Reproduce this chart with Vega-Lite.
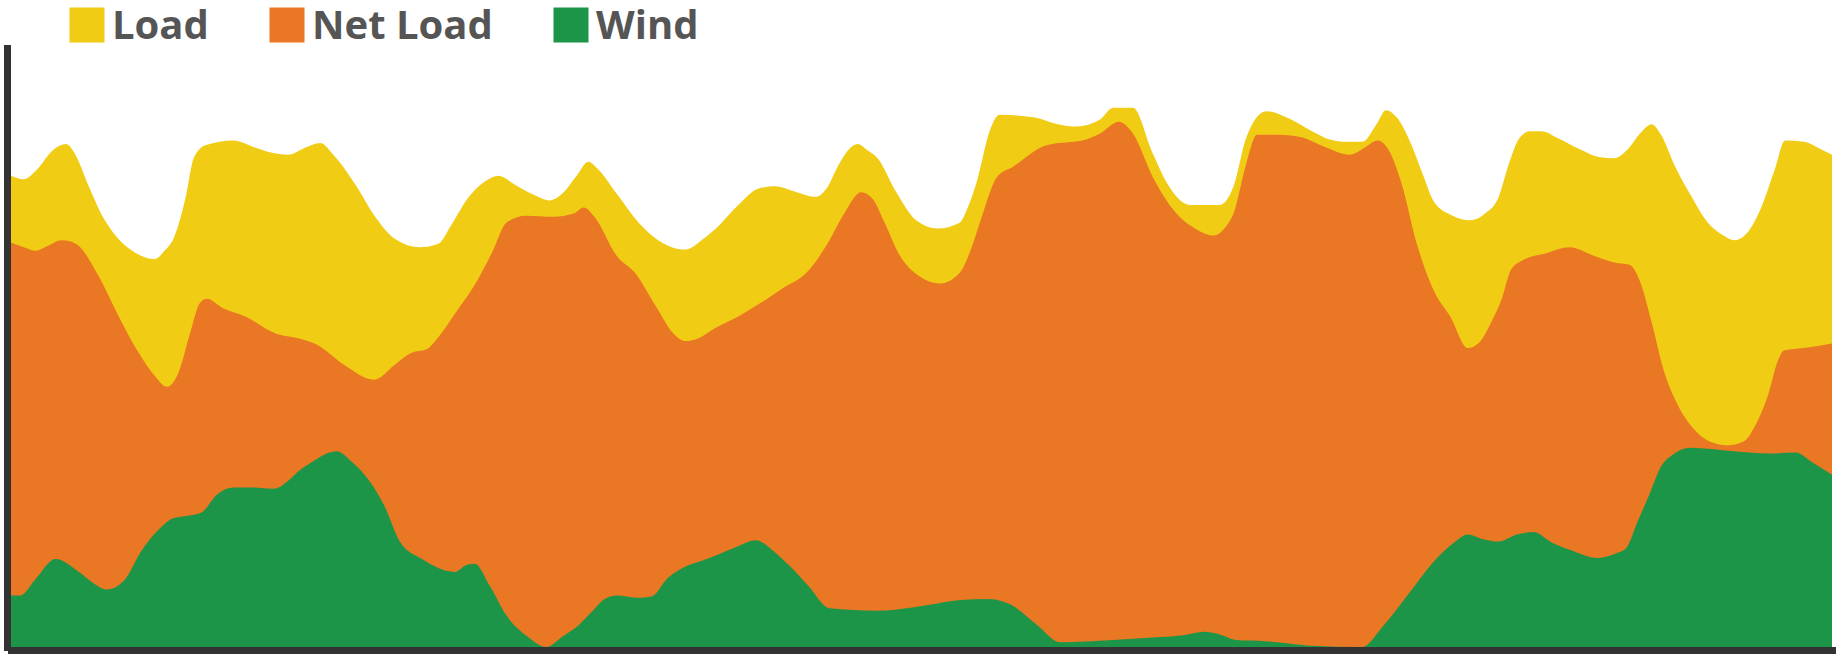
{
  "$schema": "https://vega.github.io/schema/vega-lite/v6.json",
  "width": 1821,
  "height": 599,
  "autosize": {"type": "none"},
  "padding": {"left": 11, "top": 48, "right": 5, "bottom": 13},
  "background": "#ffffff",
  "config": {"view": {"stroke": null}},
  "data": {
    "values": [
      {"s":"Load","t":9,"v":402},{"s":"Load","t":20,"v":399},{"s":"Load","t":30,"v":406},{"s":"Load","t":45,"v":424},{"s":"Load","t":56,"v":429},{"s":"Load","t":64,"v":420},{"s":"Load","t":75,"v":394},{"s":"Load","t":88,"v":366},{"s":"Load","t":100,"v":349},{"s":"Load","t":111,"v":339},{"s":"Load","t":122,"v":333},{"s":"Load","t":132,"v":331},{"s":"Load","t":140,"v":338},{"s":"Load","t":148,"v":349},{"s":"Load","t":158,"v":383},{"s":"Load","t":165,"v":417},{"s":"Load","t":175,"v":428},{"s":"Load","t":199,"v":432},{"s":"Load","t":215,"v":427},{"s":"Load","t":230,"v":422},{"s":"Load","t":246,"v":420},{"s":"Load","t":260,"v":426},{"s":"Load","t":273,"v":430},{"s":"Load","t":285,"v":419},{"s":"Load","t":304,"v":393},{"s":"Load","t":320,"v":367},{"s":"Load","t":337,"v":348},{"s":"Load","t":358,"v":341},{"s":"Load","t":374,"v":344},{"s":"Load","t":385,"v":360},{"s":"Load","t":400,"v":384},{"s":"Load","t":415,"v":398},{"s":"Load","t":425,"v":402},{"s":"Load","t":440,"v":394},{"s":"Load","t":455,"v":386},{"s":"Load","t":469,"v":381},{"s":"Load","t":480,"v":387},{"s":"Load","t":492,"v":402},{"s":"Load","t":502,"v":414},{"s":"Load","t":510,"v":408},{"s":"Load","t":526,"v":387},{"s":"Load","t":545,"v":362},{"s":"Load","t":559,"v":349},{"s":"Load","t":585,"v":339},{"s":"Load","t":600,"v":348},{"s":"Load","t":613,"v":359},{"s":"Load","t":630,"v":377},{"s":"Load","t":647,"v":391},{"s":"Load","t":661,"v":393},{"s":"Load","t":680,"v":388},{"s":"Load","t":696,"v":384},{"s":"Load","t":706,"v":392},{"s":"Load","t":715,"v":410},{"s":"Load","t":724,"v":424},{"s":"Load","t":732,"v":429},{"s":"Load","t":740,"v":424},{"s":"Load","t":749,"v":417},{"s":"Load","t":765,"v":388},{"s":"Load","t":782,"v":364},{"s":"Load","t":800,"v":357},{"s":"Load","t":819,"v":362},{"s":"Load","t":826,"v":375},{"s":"Load","t":834,"v":398},{"s":"Load","t":845,"v":441},{"s":"Load","t":853,"v":454},{"s":"Load","t":882,"v":452},{"s":"Load","t":903,"v":446},{"s":"Load","t":919,"v":444},{"s":"Load","t":939,"v":450},{"s":"Load","t":950,"v":460},{"s":"Load","t":967,"v":460},{"s":"Load","t":984,"v":421},{"s":"Load","t":996,"v":396},{"s":"Load","t":1016,"v":377},{"s":"Load","t":1041,"v":377},{"s":"Load","t":1053,"v":393},{"s":"Load","t":1064,"v":435},{"s":"Load","t":1081,"v":457},{"s":"Load","t":1100,"v":451},{"s":"Load","t":1120,"v":440},{"s":"Load","t":1135,"v":433},{"s":"Load","t":1150,"v":431},{"s":"Load","t":1163,"v":431},{"s":"Load","t":1175,"v":446},{"s":"Load","t":1183,"v":458},{"s":"Load","t":1193,"v":451},{"s":"Load","t":1205,"v":428},{"s":"Load","t":1215,"v":402},{"s":"Load","t":1224,"v":380},{"s":"Load","t":1240,"v":368},{"s":"Load","t":1255,"v":364},{"s":"Load","t":1268,"v":370},{"s":"Load","t":1279,"v":383},{"s":"Load","t":1288,"v":412},{"s":"Load","t":1297,"v":434},{"s":"Load","t":1306,"v":440},{"s":"Load","t":1316,"v":440},{"s":"Load","t":1330,"v":434},{"s":"Load","t":1350,"v":424},{"s":"Load","t":1365,"v":418},{"s":"Load","t":1378,"v":417},{"s":"Load","t":1390,"v":425},{"s":"Load","t":1400,"v":438},{"s":"Load","t":1410,"v":446},{"s":"Load","t":1418,"v":437},{"s":"Load","t":1430,"v":410},{"s":"Load","t":1443,"v":386},{"s":"Load","t":1458,"v":362},{"s":"Load","t":1470,"v":352},{"s":"Load","t":1481,"v":347},{"s":"Load","t":1493,"v":355},{"s":"Load","t":1504,"v":376},{"s":"Load","t":1515,"v":407},{"s":"Load","t":1524,"v":432},{"s":"Load","t":1540,"v":431},{"s":"Load","t":1552,"v":426},{"s":"Load","t":1564,"v":420},

      {"s":"Net Load","t":9,"v":345},{"s":"Net Load","t":20,"v":341},{"s":"Net Load","t":30,"v":338},{"s":"Net Load","t":40,"v":342},{"s":"Net Load","t":52,"v":347},{"s":"Net Load","t":60,"v":346},{"s":"Net Load","t":67,"v":342},{"s":"Net Load","t":84,"v":316},{"s":"Net Load","t":101,"v":282},{"s":"Net Load","t":118,"v":251},{"s":"Net Load","t":132,"v":231},{"s":"Net Load","t":142,"v":222},{"s":"Net Load","t":152,"v":234},{"s":"Net Load","t":162,"v":268},{"s":"Net Load","t":170,"v":293},{"s":"Net Load","t":176,"v":297},{"s":"Net Load","t":190,"v":289},{"s":"Net Load","t":209,"v":282},{"s":"Net Load","t":236,"v":267},{"s":"Net Load","t":256,"v":263},{"s":"Net Load","t":270,"v":258},{"s":"Net Load","t":293,"v":241},{"s":"Net Load","t":319,"v":228},{"s":"Net Load","t":337,"v":241},{"s":"Net Load","t":351,"v":251},{"s":"Net Load","t":364,"v":254},{"s":"Net Load","t":372,"v":262},{"s":"Net Load","t":390,"v":287},{"s":"Net Load","t":405,"v":309},{"s":"Net Load","t":420,"v":337},{"s":"Net Load","t":432,"v":362},{"s":"Net Load","t":449,"v":368},{"s":"Net Load","t":472,"v":367},{"s":"Net Load","t":490,"v":370},{"s":"Net Load","t":498,"v":375},{"s":"Net Load","t":508,"v":366},{"s":"Net Load","t":526,"v":334},{"s":"Net Load","t":542,"v":319},{"s":"Net Load","t":560,"v":290},{"s":"Net Load","t":575,"v":267},{"s":"Net Load","t":585,"v":261},{"s":"Net Load","t":595,"v":263},{"s":"Net Load","t":610,"v":272},{"s":"Net Load","t":630,"v":282},{"s":"Net Load","t":650,"v":294},{"s":"Net Load","t":668,"v":306},{"s":"Net Load","t":688,"v":319},{"s":"Net Load","t":705,"v":342},{"s":"Net Load","t":720,"v":369},{"s":"Net Load","t":735,"v":388},{"s":"Net Load","t":745,"v":382},{"s":"Net Load","t":755,"v":362},{"s":"Net Load","t":768,"v":334},{"s":"Net Load","t":785,"v":316},{"s":"Net Load","t":802,"v":310},{"s":"Net Load","t":819,"v":319},{"s":"Net Load","t":829,"v":340},{"s":"Net Load","t":837,"v":364},{"s":"Net Load","t":851,"v":401},{"s":"Net Load","t":865,"v":410},{"s":"Net Load","t":893,"v":428},{"s":"Net Load","t":927,"v":433},{"s":"Net Load","t":939,"v":438},{"s":"Net Load","t":955,"v":448},{"s":"Net Load","t":967,"v":438},{"s":"Net Load","t":984,"v":401},{"s":"Net Load","t":1004,"v":370},{"s":"Net Load","t":1020,"v":357},{"s":"Net Load","t":1036,"v":351},{"s":"Net Load","t":1046,"v":358},{"s":"Net Load","t":1053,"v":370},{"s":"Net Load","t":1064,"v":413},{"s":"Net Load","t":1073,"v":437},{"s":"Net Load","t":1090,"v":437},{"s":"Net Load","t":1110,"v":435},{"s":"Net Load","t":1130,"v":427},{"s":"Net Load","t":1152,"v":420},{"s":"Net Load","t":1165,"v":426},{"s":"Net Load","t":1176,"v":432},{"s":"Net Load","t":1186,"v":423},{"s":"Net Load","t":1196,"v":397},{"s":"Net Load","t":1210,"v":342},{"s":"Net Load","t":1225,"v":302},{"s":"Net Load","t":1238,"v":282},{"s":"Net Load","t":1253,"v":255},{"s":"Net Load","t":1263,"v":260},{"s":"Net Load","t":1272,"v":275},{"s":"Net Load","t":1282,"v":297},{"s":"Net Load","t":1290,"v":322},{"s":"Net Load","t":1300,"v":330},{"s":"Net Load","t":1320,"v":336},{"s":"Net Load","t":1340,"v":341},{"s":"Net Load","t":1360,"v":334},{"s":"Net Load","t":1378,"v":328},{"s":"Net Load","t":1391,"v":326},{"s":"Net Load","t":1400,"v":312},{"s":"Net Load","t":1410,"v":277},{"s":"Net Load","t":1420,"v":237},{"s":"Net Load","t":1432,"v":207},{"s":"Net Load","t":1445,"v":187},{"s":"Net Load","t":1460,"v":175},{"s":"Net Load","t":1475,"v":172},{"s":"Net Load","t":1488,"v":175},{"s":"Net Load","t":1500,"v":192},{"s":"Net Load","t":1510,"v":217},{"s":"Net Load","t":1517,"v":242},{"s":"Net Load","t":1523,"v":253},{"s":"Net Load","t":1540,"v":255},{"s":"Net Load","t":1564,"v":259},

      {"s":"Wind","t":9,"v":44},{"s":"Wind","t":17,"v":44},{"s":"Wind","t":30,"v":58},{"s":"Wind","t":47,"v":75},{"s":"Wind","t":67,"v":64},{"s":"Wind","t":80,"v":54},{"s":"Wind","t":91,"v":49},{"s":"Wind","t":105,"v":56},{"s":"Wind","t":121,"v":83},{"s":"Wind","t":135,"v":100},{"s":"Wind","t":148,"v":110},{"s":"Wind","t":160,"v":112},{"s":"Wind","t":172,"v":115},{"s":"Wind","t":185,"v":130},{"s":"Wind","t":199,"v":136},{"s":"Wind","t":215,"v":136},{"s":"Wind","t":233,"v":135},{"s":"Wind","t":260,"v":154},{"s":"Wind","t":287,"v":167},{"s":"Wind","t":300,"v":158},{"s":"Wind","t":314,"v":143},{"s":"Wind","t":328,"v":120},{"s":"Wind","t":341,"v":90},{"s":"Wind","t":360,"v":75},{"s":"Wind","t":388,"v":64},{"s":"Wind","t":398,"v":70},{"s":"Wind","t":405,"v":71},{"s":"Wind","t":418,"v":52},{"s":"Wind","t":432,"v":27},{"s":"Wind","t":450,"v":9},{"s":"Wind","t":466,"v":0},{"s":"Wind","t":480,"v":9},{"s":"Wind","t":493,"v":18},{"s":"Wind","t":505,"v":30},{"s":"Wind","t":516,"v":41},{"s":"Wind","t":526,"v":44},{"s":"Wind","t":545,"v":42},{"s":"Wind","t":556,"v":43},{"s":"Wind","t":570,"v":59},{"s":"Wind","t":586,"v":69},{"s":"Wind","t":600,"v":74},{"s":"Wind","t":613,"v":79},{"s":"Wind","t":630,"v":86},{"s":"Wind","t":645,"v":91},{"s":"Wind","t":660,"v":82},{"s":"Wind","t":674,"v":69},{"s":"Wind","t":690,"v":52},{"s":"Wind","t":708,"v":33},{"s":"Wind","t":748,"v":31},{"s":"Wind","t":780,"v":34},{"s":"Wind","t":799,"v":37},{"s":"Wind","t":820,"v":40},{"s":"Wind","t":843,"v":41},{"s":"Wind","t":863,"v":36},{"s":"Wind","t":885,"v":19},{"s":"Wind","t":905,"v":4},{"s":"Wind","t":950,"v":6},{"s":"Wind","t":984,"v":8},{"s":"Wind","t":1010,"v":10},{"s":"Wind","t":1028,"v":13},{"s":"Wind","t":1040,"v":11},{"s":"Wind","t":1055,"v":6},{"s":"Wind","t":1080,"v":5},{"s":"Wind","t":1100,"v":3},{"s":"Wind","t":1120,"v":1},{"s":"Wind","t":1163,"v":0},{"s":"Wind","t":1180,"v":17},{"s":"Wind","t":1203,"v":46},{"s":"Wind","t":1225,"v":74},{"s":"Wind","t":1240,"v":88},{"s":"Wind","t":1253,"v":96},{"s":"Wind","t":1266,"v":92},{"s":"Wind","t":1279,"v":90},{"s":"Wind","t":1295,"v":96},{"s":"Wind","t":1309,"v":98},{"s":"Wind","t":1325,"v":89},{"s":"Wind","t":1340,"v":83},{"s":"Wind","t":1364,"v":76},{"s":"Wind","t":1380,"v":80},{"s":"Wind","t":1388,"v":84},{"s":"Wind","t":1398,"v":107},{"s":"Wind","t":1408,"v":130},{"s":"Wind","t":1418,"v":154},{"s":"Wind","t":1428,"v":164},{"s":"Wind","t":1443,"v":170},{"s":"Wind","t":1480,"v":167},{"s":"Wind","t":1511,"v":165},{"s":"Wind","t":1533,"v":166},{"s":"Wind","t":1548,"v":157},{"s":"Wind","t":1564,"v":147}
    ]
  },
  "mark": {"type": "area", "interpolate": "monotone", "opacity": 1},
  "encoding": {
    "x": {
      "field": "t", "type": "quantitative",
      "scale": {"domain": [9, 1564], "nice": false, "zero": false},
      "axis": {"domain": true, "domainColor": "#333333", "domainWidth": 7, "ticks": false, "labels": false, "grid": false, "title": null, "offset": 3, "domainCap": "square"}
    },
    "y": {
      "field": "v", "type": "quantitative", "stack": null,
      "scale": {"domain": [0, 511], "nice": false},
      "axis": {"domain": true, "domainColor": "#333333", "domainWidth": 7, "ticks": false, "labels": false, "grid": false, "title": null, "offset": 4, "domainCap": "square"}
    },
    "color": {
      "field": "s", "type": "nominal",
      "scale": {"domain": ["Load", "Net Load", "Wind"], "range": ["#F1CC14", "#E97723", "#1D9548"]},
      "legend": {
        "title": null, "orient": "none", "legendX": 56, "legendY": -43, "direction": "horizontal",
        "symbolType": "square", "symbolSize": 1225, "symbolStrokeWidth": 0, "symbolOpacity": 1,
        "labelFont": "Open Sans", "labelFontSize": 40, "labelFontWeight": "bold", "labelColor": "#555555",
        "labelOffset": 5, "columnPadding": 58, "padding": 0, "labelLimit": 400,
        "encode": {"labels": {"update": {"dy": {"value": 2}}}}
      }
    }
  }
}
